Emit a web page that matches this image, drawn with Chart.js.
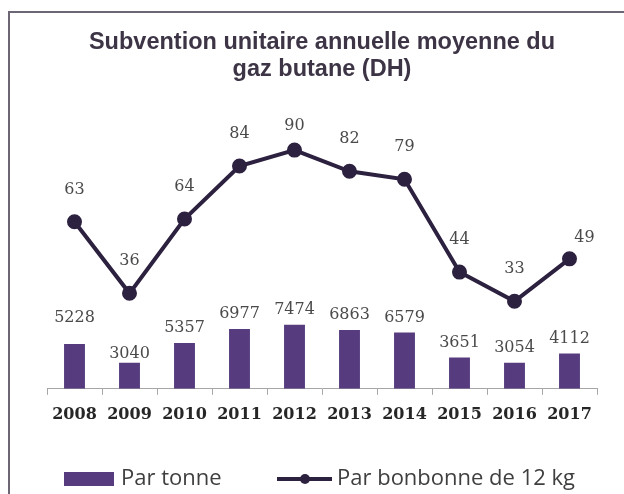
<!DOCTYPE html>
<html>
<head>
<meta charset="utf-8">
<script src="https://cdn.jsdelivr.net/npm/chart.js@4.4.1/dist/chart.umd.min.js"></script>
<style>
  html, body { margin: 0; padding: 0; background: #ffffff; }
  #wrap { position: relative; width: 624px; height: 494px; overflow: hidden; background: #fff; }
  #frame { position: absolute; left: 8px; top: 11px; width: 640px; height: 520px;
           border: 2px solid #6c6675; box-sizing: border-box; pointer-events: none; }
  canvas { position: absolute; left: 0; top: 0; }
</style>
</head>
<body>
<div id="wrap">
  <canvas id="c" width="624" height="494"></canvas>
  <div id="frame"></div>
</div>
<script>
const titleLines = ['Subvention unitaire annuelle moyenne du', 'gaz butane (DH)'];
const years = ['2008', '2009', '2010', '2011', '2012', '2013', '2014', '2015', '2016', '2017'];
const parTonne = [5228, 3040, 5357, 6977, 7474, 6863, 6579, 3651, 3054, 4112];
const parBonbonne = [63, 36, 64, 84, 90, 82, 79, 44, 33, 49];
const seriesNames = ['Par tonne', 'Par bonbonne de 12 kg'];

const barColor = '#563c7e';
const lineColor = '#2d2140';
const labelColor = '#4a4a4a';
const labelFont = '16px "DejaVu Serif"';

const valueLabels = {
  id: 'valueLabels',
  afterDatasetsDraw(chart, args, opts) {
    const ctx = chart.ctx;
    ctx.save();
    ctx.font = labelFont;
    ctx.fillStyle = labelColor;
    ctx.textAlign = 'center';
    ctx.textBaseline = 'middle';
    chart.data.datasets.forEach((ds, di) => {
      const meta = chart.getDatasetMeta(di);
      const isLine = ds.type === 'line';
      const nudges = isLine ? opts.lineNudges : opts.barNudges;
      const baseDy = isLine ? opts.lineDy : opts.barDy;
      meta.data.forEach((el, i) => {
        const n = nudges[i] || {};
        const dy = n.dy !== undefined ? n.dy : baseDy;
        const dx = n.dx || 0;
        ctx.fillText(String(ds.data[i]), el.x + dx, el.y + dy);
      });
    });
    ctx.restore();
  }
};

const customLegend = {
  id: 'customLegend',
  afterDraw(chart) {
    const ctx = chart.ctx;
    const y = 479;
    ctx.save();
    ctx.fillStyle = barColor;
    ctx.fillRect(64, y - 7, 50, 14);
    ctx.strokeStyle = lineColor;
    ctx.lineWidth = 4;
    ctx.beginPath();
    ctx.moveTo(277, y);
    ctx.lineTo(332, y);
    ctx.stroke();
    ctx.fillStyle = lineColor;
    ctx.beginPath();
    ctx.arc(305, y, 5, 0, Math.PI * 2);
    ctx.fill();
    ctx.font = '22px "Open Sans"';
    ctx.fillStyle = '#3f3f3f';
    ctx.textAlign = 'left';
    ctx.textBaseline = 'middle';
    ctx.fillText(seriesNames[0], 121, y);
    ctx.fillText(seriesNames[1], 337, y);
    ctx.restore();
  }
};

new Chart(document.getElementById('c'), {
  data: {
    labels: years,
    datasets: [
      {
        type: 'line',
        label: seriesNames[1],
        data: parBonbonne,
        yAxisID: 'yLine',
        borderColor: lineColor,
        backgroundColor: lineColor,
        borderWidth: 4,
        pointRadius: 5.5,
        pointBackgroundColor: lineColor,
        pointBorderColor: lineColor,
        tension: 0,
        order: 0
      },
      {
        type: 'bar',
        label: seriesNames[0],
        data: parTonne,
        yAxisID: 'yBar',
        backgroundColor: barColor,
        borderWidth: 0,
        barPercentage: 0.38,
        categoryPercentage: 1,
        order: 1
      }
    ]
  },
  options: {
    responsive: false,
    animation: false,
    devicePixelRatio: 1,
    layout: { padding: { left: 47, right: 27, top: 0, bottom: 60 } },
    plugins: {
      legend: { display: false },
      tooltip: { enabled: false },
      title: {
        display: true,
        text: titleLines,
        color: '#3d3546',
        font: { family: '"Liberation Sans", Arial, sans-serif', size: 23.5, weight: 'bold', lineHeight: 1.14 },
        padding: { top: 29, bottom: 41 }
      },
      valueLabels: {
        lineDy: -32,
        barDy: -15,
        lineNudges: { 4: { dy: -24 }, 9: { dy: -21, dx: 15 } },
        barNudges: { 0: { dy: -26 }, 1: { dy: -9 } }
      }
    },
    scales: {
      x: {
        offset: true,
        grid: {
          display: true,
          offset: true,
          drawOnChartArea: false,
          drawTicks: true,
          tickLength: 6,
          color: '#a6a6a6'
        },
        border: { display: true, color: '#a6a6a6', width: 1 },
        ticks: {
          color: '#262626',
          font: { family: '"DejaVu Serif"', size: 16, weight: 'bold' },
          padding: 10,
          maxRotation: 0
        }
      },
      yBar: {
        type: 'linear',
        display: false,
        min: 0,
        max: 31000
      },
      yLine: {
        type: 'linear',
        display: false,
        min: 0,
        max: 100
      }
    }
  },
  plugins: [valueLabels, customLegend]
});
</script>
</body>
</html>
